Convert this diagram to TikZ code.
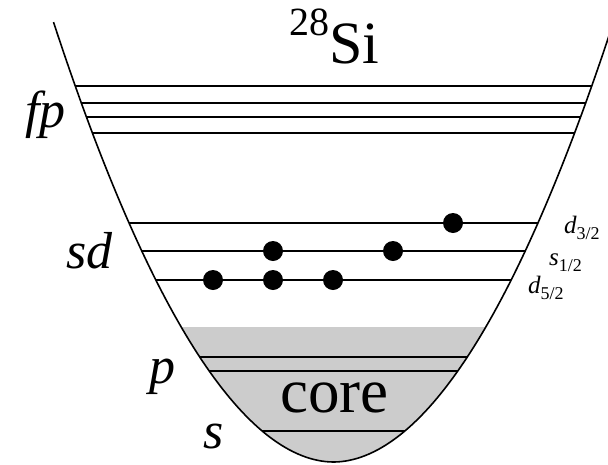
\documentclass[tikz,border=0pt]{standalone}
\usepackage{fontspec}
\setmainfont{Liberation Serif}
\pgfmathdeclarefunction{hw}{1}{\pgfmathparse{exp((ln(462-#1)+4.845)/1.94)}}
\tikzset{
  well/.style={line width=1.6pt, line join=round},
  level/.style={line width=1.6pt},
  electron/.style={circle, fill=black, minimum size=20pt, inner sep=0pt},
  shell/.style={inner sep=0pt, anchor=base west, font=\fontsize{52}{52}\selectfont\itshape},
  sub/.style={inner sep=0pt, anchor=base west, font=\fontsize{25}{25}\selectfont\itshape},
}
\newcommand{\lsub}[1]{\raisebox{-6pt}{\fontsize{18}{18}\selectfont\upshape #1}}
\begin{document}
\begin{tikzpicture}[x=1pt,y=-1pt]
\useasboundingbox (0,0) rectangle (608,464);
\clip (0,0) rectangle (608,464);
% core fill
\fill[gray!40] plot[domain=-152.3:152.3, samples=77] ({333.5+\x},{462-exp(1.94*ln(abs(\x)+0.01)-4.845)}) -- cycle;
% levels
\foreach \yy in {86,103,117,133,223,251,280,357,371,431}
  \draw[level] ({333.5-hw(\yy)},\yy) -- ({333.5+hw(\yy)},\yy);
% well
\draw[well] plot[domain=-280:280, samples=141] ({333.5+\x},{462-exp(1.94*ln(abs(\x)+0.01)-4.845)});
% electrons
\node[electron] (e1) at (453,223) {};
\node[electron] (e2) at (273,251) {};
\node[electron] (e3) at (393,251) {};
\node[electron] (e4) at (213,280) {};
\node[electron] (e5) at (273,280) {};
\node[electron] (e6) at (333,280) {};
% labels
\node[inner sep=0pt, anchor=base west, font=\fontsize{60}{60}\selectfont] (title) at (289,63) {\raisebox{28pt}{\fontsize{40}{40}\selectfont 28}Si};
\node[shell] (fp) at (25,127) {fp};
\node[shell] (sd) at (66,268) {sd};
\node[shell] (p) at (149,383) {p};
\node[shell] (s) at (203,448) {s};
\node[inner sep=0pt, anchor=base west, font=\fontsize{63}{63}\selectfont] (core) at (280,412) {core};
\node[sub] (d32) at (564,233) {d\lsub{3/2}};
\node[sub] (s12) at (549,265) {s\lsub{1/2}};
\node[sub] (d52) at (528,293) {d\lsub{5/2}};
\end{tikzpicture}
\end{document}
